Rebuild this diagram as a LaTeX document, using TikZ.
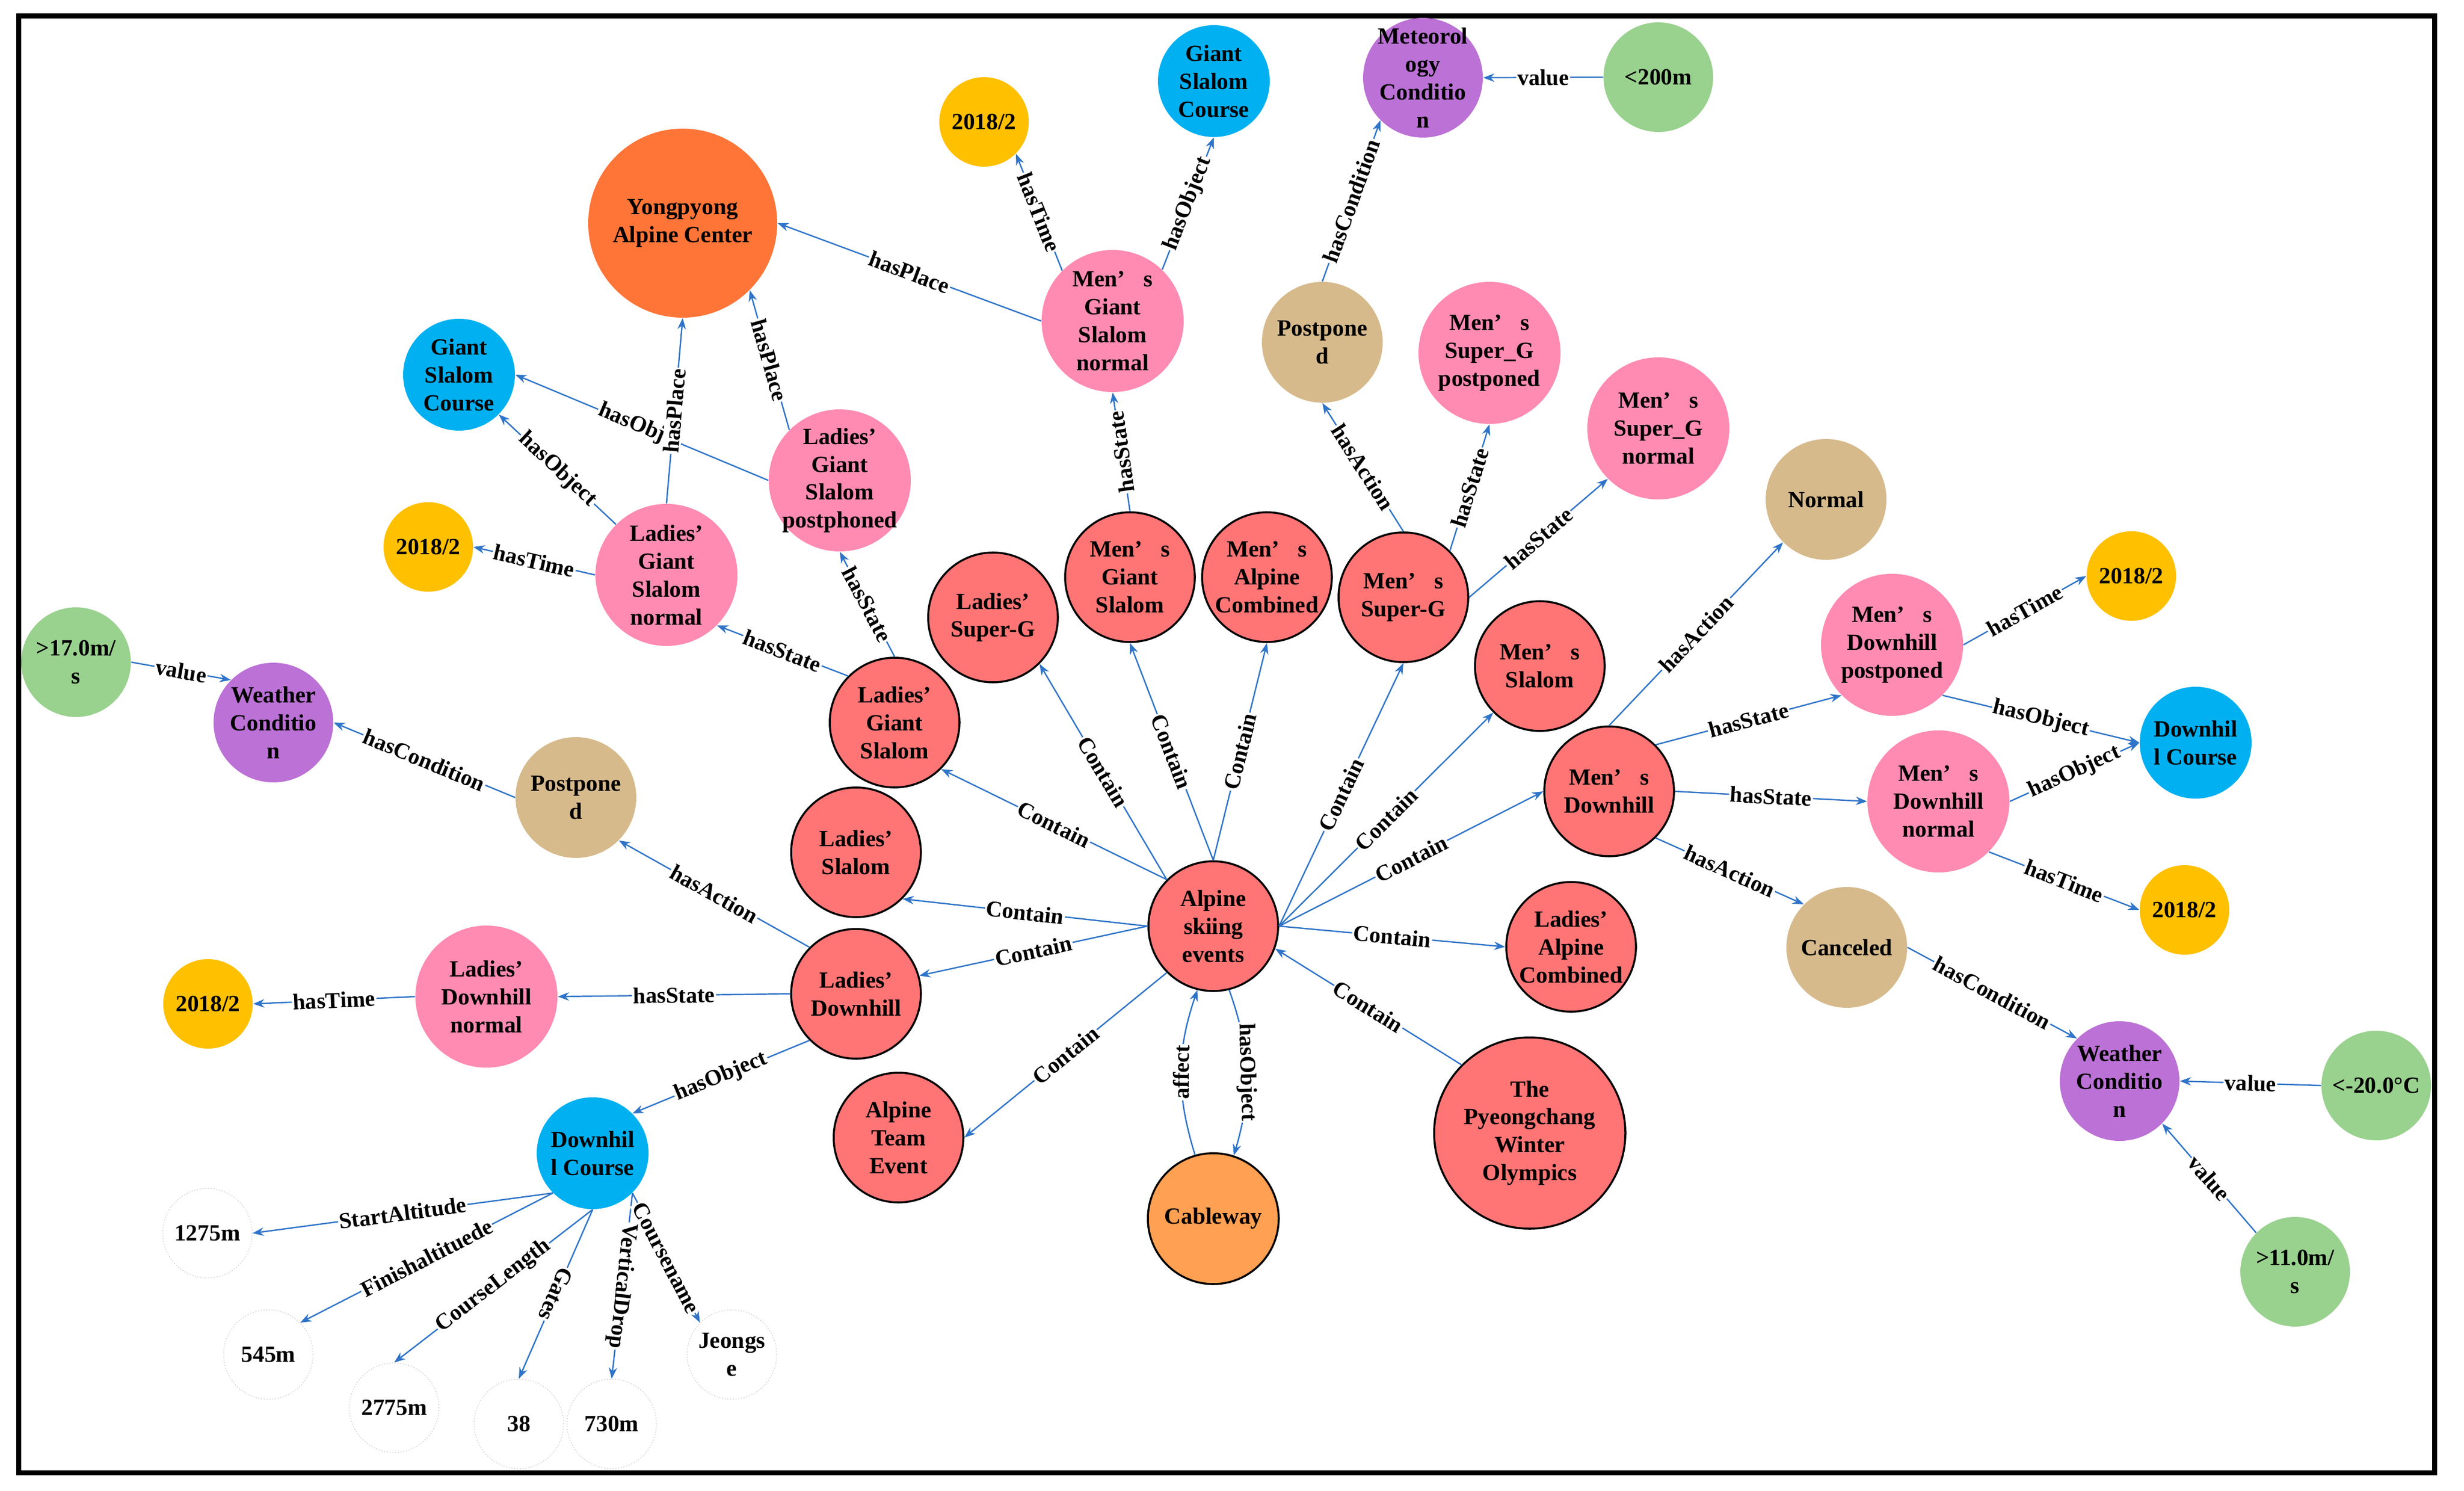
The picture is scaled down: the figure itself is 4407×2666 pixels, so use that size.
\documentclass[tikz,border=0pt]{standalone}
\usepackage{fontspec}
\setmainfont{Liberation Serif}
\usetikzlibrary{arrows.meta}

\definecolor{evred}{HTML}{FF7575}
\definecolor{statepink}{HTML}{FF8BB2}
\definecolor{objblue}{HTML}{00B0F0}
\definecolor{timeyel}{HTML}{FFC000}
\definecolor{valgreen}{HTML}{99D18E}
\definecolor{condpurple}{HTML}{BB71D5}
\definecolor{acttan}{HTML}{D6BA8C}
\definecolor{placeorange}{HTML}{FF7538}
\definecolor{cabor}{HTML}{FFA052}
\definecolor{edgeblue}{HTML}{2F74C8}

\newcommand{\mens}{Men’\hspace{0.8em}s}

\tikzset{
  kg/.style={circle, inner sep=-4mm, align=center, font=\fontsize{11.8}{14.2}\selectfont\bfseries},
  evt/.style={kg, fill=evred, draw=black, line width=1pt, minimum size=23.2mm},
  stat/.style={kg, fill=statepink, minimum size=25.4mm},
  obj/.style={kg, fill=objblue, minimum size=20mm},
  tim/.style={kg, fill=timeyel, minimum size=16mm},
  val/.style={kg, fill=valgreen, minimum size=19.6mm},
  cond/.style={kg, fill=condpurple, minimum size=21.4mm},
  act/.style={kg, fill=acttan, minimum size=21.6mm},
  lit/.style={kg, draw=black!22, densely dotted, line width=0.4pt, minimum size=16mm},
  rel/.style={draw=edgeblue, line width=0.7pt, -{Stealth[length=2mm,width=1.5mm]}},
  lbl/.style={sloped, fill=white, inner sep=0.6pt, font=\fontsize{11.5}{13}\selectfont\bfseries},
}

\begin{document}
\begin{tikzpicture}[x=0.1mm,y=-0.1mm]
  \useasboundingbox (0,0) rectangle (4407,2666);
  \draw[line width=0.9mm] (33,29) rectangle (4354,2633); %frame

  % events
  \node[evt] (alp) at (2170,1656) {Alpine\\skiing\\events};
  \node[evt, minimum size=34.2mm] (pyeong) at (2736,2026) {The\\Pyeongchang\\Winter\\Olympics};
  \node[evt, fill=cabor, minimum size=23.4mm] (cab) at (2170,2179) {Cableway};
  \node[evt] (lgs) at (1600,1292) {Ladies’\\Giant\\Slalom};
  \node[evt] (lsg) at (1776,1104) {Ladies’\\Super-G};
  \node[evt] (mg) at (2021,1032) {\mens\\Giant\\Slalom};
  \node[evt] (mac) at (2266,1032) {\mens\\Alpine\\Combined};
  \node[evt] (msg) at (2510,1068) {\mens\\Super-G};
  \node[evt] (msl) at (2754,1191) {\mens\\Slalom};
  \node[evt] (md) at (2878,1415) {\mens\\Downhill};
  \node[evt] (lac) at (2810,1693) {Ladies’\\Alpine\\Combined};
  \node[evt] (lsl) at (1531,1524) {Ladies’\\Slalom};
  \node[evt] (ldh) at (1531,1777) {Ladies’\\Downhill};
  \node[evt] (ate) at (1607,2034) {Alpine\\Team\\Event};

  % states
  \node[stat] (mgsn) at (1990,574) {\mens\\Giant\\Slalom\\normal};
  \node[stat] (lgsp) at (1502,859) {Ladies’\\Giant\\Slalom\\postphoned};
  \node[stat] (lgsn) at (1192,1028) {Ladies’\\Giant\\Slalom\\normal};
  \node[stat] (msgp) at (2664,631) {\mens\\Super\_G\\postponed};
  \node[stat] (msgn) at (2966,766) {\mens\\Super\_G\\normal};
  \node[stat] (mdp) at (3384,1153) {\mens\\Downhill\\postponed};
  \node[stat] (mdn) at (3467,1433) {\mens\\Downhill\\normal};
  \node[stat] (ldhn) at (870,1782) {Ladies’\\Downhill\\normal};

  % place, objects, times
  \node[kg, fill=placeorange, minimum size=33.8mm] (yong) at (1221,399) {Yongpyong\\Alpine Center};
  \node[obj] (gsc1) at (2171,145) {Giant\\Slalom\\Course};
  \node[obj] (gsc2) at (821,670) {Giant\\Slalom\\Course};
  \node[obj] (dc1) at (3927,1328) {Downhil\\l Course};
  \node[obj] (dc2) at (1060,2062) {Downhil\\l Course};
  \node[tim] (t1) at (1760,218) {2018/2};
  \node[tim] (t2) at (766,978) {2018/2};
  \node[tim] (t3) at (3812,1030) {2018/2};
  \node[tim] (t4) at (3907,1627) {2018/2};
  \node[tim] (t5) at (372,1795) {2018/2};

  % actions, conditions, values
  \node[act] (pst1) at (2365,612) {Postpone\\d};
  \node[act] (pst2) at (1030,1426) {Postpone\\d};
  \node[act] (norm) at (3266,893) {Normal};
  \node[act] (canc) at (3303,1694) {Canceled};
  \node[cond] (met) at (2545,139) {Meteorol\\ogy\\Conditio\\n};
  \node[cond] (wc1) at (489,1292) {Weather\\Conditio\\n};
  \node[cond] (wc2) at (3791,1933) {Weather\\Conditio\\n};
  \node[val] (lt200) at (2966,138) {<200m};
  \node[val] (v17) at (136,1184) {>17.0m/\\s};
  \node[val] (lt20) at (4250,1941) {<-20.0°C};
  \node[val] (v11) at (4105,2274) {>11.0m/\\s};

  % course data
  \node[lit] (v1275) at (371,2205) {1275m};
  \node[lit] (v545) at (480,2422) {545m};
  \node[lit] (v2775) at (705,2517) {2775m};
  \node[lit] (v38) at (928,2546) {38};
  \node[lit] (v730) at (1094,2546) {730m};
  \node[lit] (jeong) at (1309,2422) {Jeongs\\e};

  % giant slalom part
  \draw[rel] (mgsn.west) -- node[lbl]{hasPlace} (yong.east);
  \draw[rel] (mgsn.135) -- node[lbl]{hasTime} (t1.-45);
  \draw[rel] (mgsn.46) -- node[lbl]{hasObject} (gsc1.south);
  \draw[rel] (mg.north) -- node[lbl,allow upside down]{hasState} (mgsn.south);
  \draw[rel] (lgsp.135) -- node[lbl]{hasPlace} (yong.-45);
  \draw[rel] (lgsp.west) -- node[lbl,pos=0.54]{hasObj} (gsc2.east);
  \draw[rel] (lgsn.north) -- node[lbl]{hasPlace} (yong.south);
  \draw[rel] (lgsn.135) -- node[lbl]{hasObject} (gsc2.-45);
  \draw[rel] (lgsn.west) -- node[lbl]{hasTime} (t2.east);
  \draw[rel] (lgs.135) -- node[lbl]{hasState} (lgsn.-45);
  \draw[rel] (lgs.north) -- node[lbl]{hasState} (lgsp.south);

  % contain
  \draw[rel] (alp.135) -- node[lbl]{Contain} (lgs.-45);
  \draw[rel] (alp.135) -- node[lbl]{Contain} (lsg.-45);
  \draw[rel] (alp.north) -- node[lbl]{Contain} (mg.south);
  \draw[rel] (alp.north) -- node[lbl]{Contain} (mac.south);
  \draw[rel] (alp.east) -- node[lbl]{Contain} (msg.south);
  \draw[rel] (alp.east) -- node[lbl]{Contain} (msl.-135);
  \draw[rel] (alp.east) -- node[lbl]{Contain} (md.west);
  \draw[rel] (alp.east) -- node[lbl]{Contain} (lac.west);
  \draw[rel] (pyeong.135) -- node[lbl]{Contain} (alp.-20);
  \draw[rel] (alp.-135) -- node[lbl]{Contain} (ate.east);
  \draw[rel] (alp.west) -- node[lbl]{Contain} (ldh.16);
  \draw[rel] (alp.west) -- node[lbl]{Contain} (lsl.-45);
  \draw[rel] (cab.106) to[bend left=18] node[lbl,allow upside down]{affect} (alp.-104);
  \draw[rel] (alp.-76) to[bend left=18] node[lbl,allow upside down]{hasObject} (cab.72);

  % super-G part
  \draw[rel] (msg.north) -- node[lbl]{hasAction} (pst1.south);
  \draw[rel] (msg.45) -- node[lbl]{hasState} (msgp.south);
  \draw[rel] (msg.east) -- node[lbl]{hasState} (msgn.-135);
  \draw[rel] (pst1.north) -- node[lbl]{hasCondition} (met.-135);
  \draw[rel] (lt200.west) -- node[lbl]{value} (met.east);

  % men's downhill part
  \draw[rel] (md.north) -- node[lbl]{hasAction} (norm.-135);
  \draw[rel] (md.45) -- node[lbl]{hasState} (mdp.-135);
  \draw[rel] (md.east) -- node[lbl]{hasState} (mdn.west);
  \draw[rel] (md.-45) -- node[lbl]{hasAction} (canc.135);
  \draw[rel] (mdp.east) -- node[lbl]{hasTime} (t3.west);
  \draw[rel] (mdp.-45) -- node[lbl]{hasObject} (dc1.west);
  \draw[rel] (mdn.east) -- node[lbl]{hasObject} (dc1.west);
  \draw[rel] (mdn.-45) -- node[lbl]{hasTime} (t4.west);
  \draw[rel] (canc.east) -- node[lbl]{hasCondition} (wc2.135);
  \draw[rel] (lt20.west) -- node[lbl]{value} (wc2.east);
  \draw[rel] (v11.135) -- node[lbl]{value} (wc2.-45);

  % ladies' downhill part
  \draw[rel] (ldh.135) -- node[lbl]{hasAction} (pst2.-45);
  \draw[rel] (pst2.west) -- node[lbl]{hasCondition} (wc1.east);
  \draw[rel] (v17.east) -- node[lbl]{value} (wc1.135);
  \draw[rel] (ldh.west) -- node[lbl]{hasState} (ldhn.east);
  \draw[rel] (ldhn.west) -- node[lbl]{hasTime} (t5.east);
  \draw[rel] (ldh.-135) -- node[lbl]{hasObject} (dc2.45);
  \draw[rel] (dc2.-135) -- node[lbl]{StartAltitude} (v1275.east);
  \draw[rel] (dc2.-135) -- node[lbl]{Finishaltituede} (v545.45);
  \draw[rel] (dc2.south) -- node[lbl]{CourseLength} (v2775.north);
  \draw[rel] (dc2.south) -- node[lbl,allow upside down]{Gates} (v38.north);
  \draw[rel] (dc2.-45) -- node[lbl,allow upside down]{VerticalDrop} (v730.north);
  \draw[rel] (dc2.-45) -- node[lbl]{Coursename} (jeong.135);
\end{tikzpicture}
\end{document}
